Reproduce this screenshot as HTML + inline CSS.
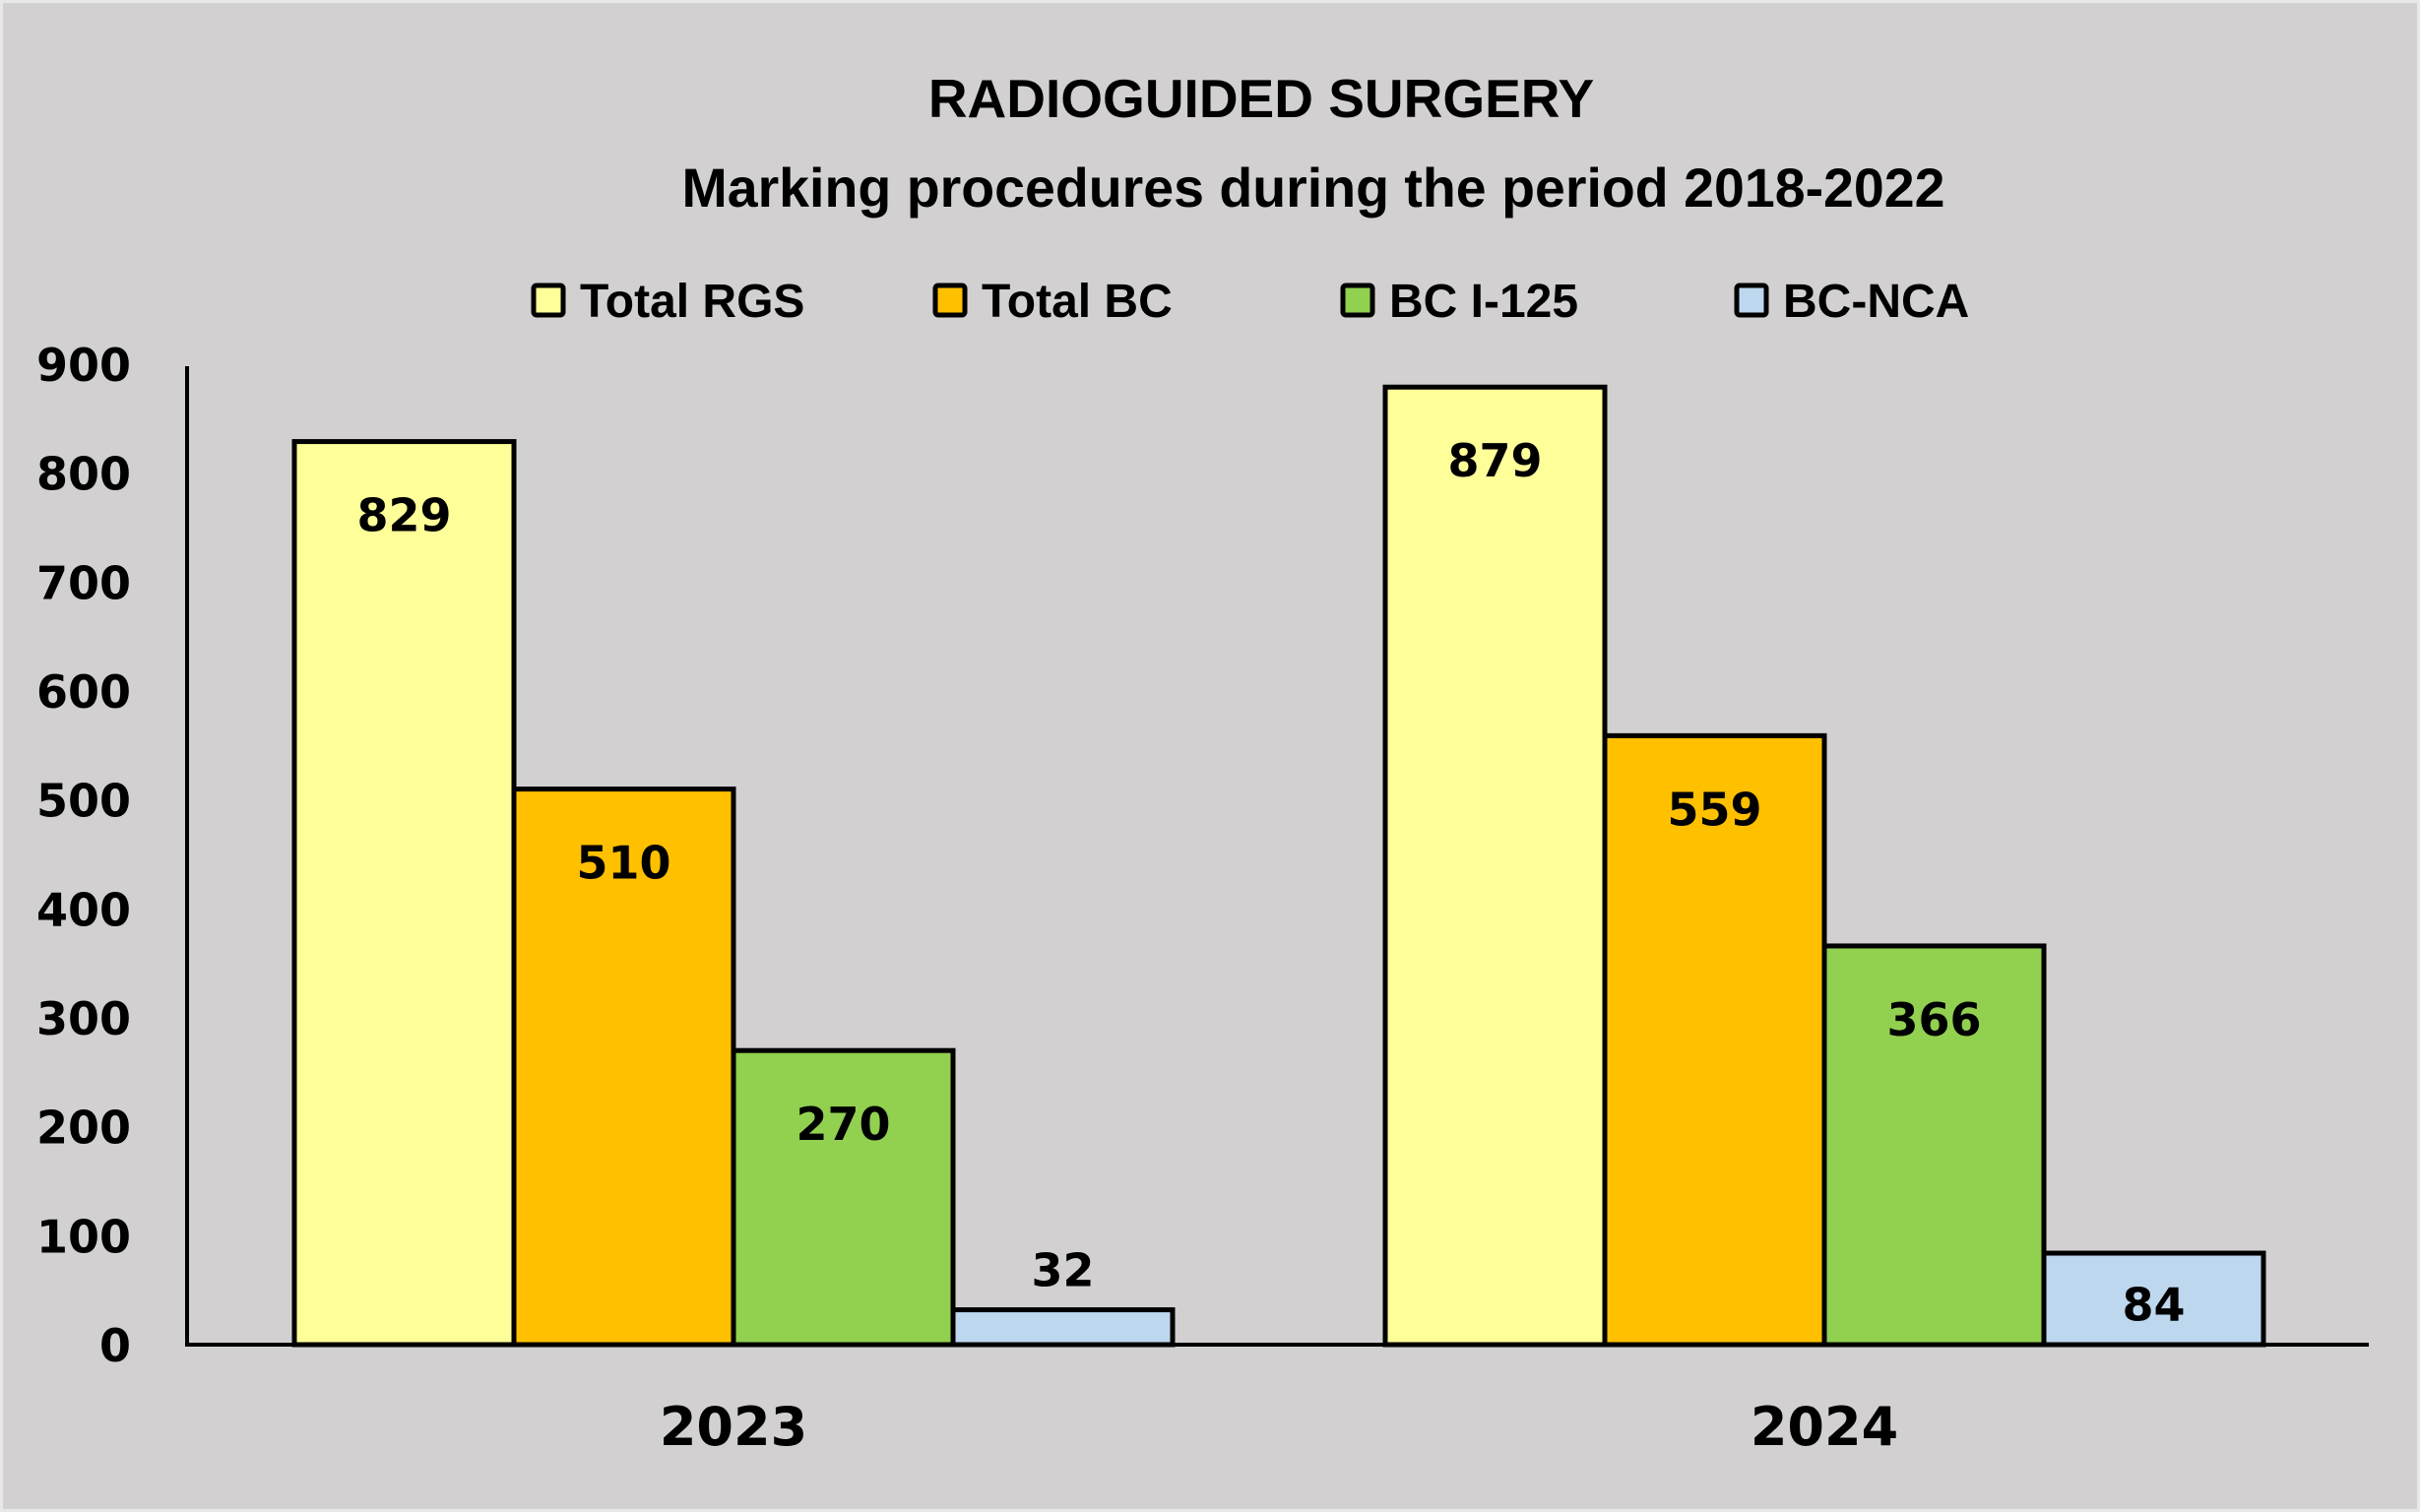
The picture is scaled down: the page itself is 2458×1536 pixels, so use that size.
<!DOCTYPE html>
<html><head><meta charset="utf-8"><style>
html,body{margin:0;padding:0;background:#d2d0d1;}
svg{display:block;}
</style></head><body>
<svg id="chart" width="2458" height="1536" viewBox="0 0 2458 1536" xmlns="http://www.w3.org/2000/svg">
<rect x="0" y="0" width="2458" height="1536" fill="#d2d0d1" stroke="#e8e8e8" stroke-width="6"/>
<text x="1281" y="119" text-anchor="middle" font-family="Liberation Sans, sans-serif" font-weight="bold" font-size="55">RADIOGUIDED SURGERY</text>
<text x="1334" y="210" text-anchor="middle" font-family="Liberation Sans, sans-serif" font-weight="bold" font-size="55.5">Marking procedures during the period 2018-2022</text>
<g id="legend"></g>
<g id="yticks"></g>
<g id="bars"></g>
<g id="xlabels"></g>
<line x1="190" y1="372" x2="190" y2="1367" stroke="#000" stroke-width="4"/>
<line x1="188" y1="1366" x2="2406" y2="1366" stroke="#000" stroke-width="4"/>
</svg>
<script>
const categories = ["2023", "2024"];
const seriesNames = ["Total RGS", "Total BC", "BC I-125", "BC-NCA"];
const totalRGS = [829, 879];
const totalBC = [510, 559];
const bcI125 = [270, 366];
const bcNCA = [32, 84];
const yTicks = [0, 100, 200, 300, 400, 500, 600, 700, 800, 900];

const series = [totalRGS, totalBC, bcI125, bcNCA];
const colors = ["#ffff99", "#ffc000", "#92d050", "#bdd7ee"];
const NS = "http://www.w3.org/2000/svg";
const y0 = 1366, yMax = 900, plotH = 1366 - 370;
function yScale(v){ return y0 - v / yMax * plotH; }
const groupCenters = [745, 1853];
const barW = 223;
function xBar(ci, si){ return groupCenters[ci] - 2 * barW + si * barW; }
function mk(tag, attrs, parent){ const e = document.createElementNS(NS, tag); for (const k in attrs) e.setAttribute(k, attrs[k]); parent.appendChild(e); return e; }

const yt = document.getElementById('yticks');
yTicks.forEach(v => {
  const t = mk('text', {x: 133, y: yScale(v) + 17, 'text-anchor': 'end', 'font-family': 'DejaVu Sans, sans-serif', 'font-weight': 'bold', 'font-size': '46'}, yt);
  
  
  t.textContent = v;
});

const bg = document.getElementById('bars');
categories.forEach((c, ci) => {
  series.forEach((s, si) => {
    const v = s[ci];
    const top = yScale(v);
    const r = mk('rect', {x: xBar(ci, si), y: top, width: barW, height: y0 - top, fill: colors[si], stroke: '#000', 'stroke-width': 5}, bg);
    
    
    const h = y0 - top;
    let ly;
    if (v > 60) ly = top + Math.min(75, h / 2 + 6) + 16; else ly = top - 24;
    const t = mk('text', {x: xBar(ci, si) + barW / 2, y: ly, 'text-anchor': 'middle', 'font-family': 'DejaVu Sans, sans-serif', 'font-weight': 'bold', 'font-size': '46'}, bg);
    
    
    t.textContent = v;
  });
  const xl = mk('text', {x: groupCenters[ci], y: 1468, 'text-anchor': 'middle', 'font-family': 'DejaVu Sans, sans-serif', 'font-weight': 'bold', 'font-size': '54'}, document.getElementById('xlabels'));
  
  
  xl.textContent = c;
});

const lg = document.getElementById('legend');
const legX = [542, 950, 1364, 1764];
seriesNames.forEach((n, i) => {
  const r = mk('rect', {x: legX[i], y: 290, width: 30, height: 30, fill: colors[i], stroke: '#000', 'stroke-width': 5, rx: 3}, lg);
  
  
  const t = mk('text', {x: legX[i] + 47, y: 322, 'font-family': 'Liberation Sans, sans-serif', 'font-weight': 'bold', 'font-size': '48'}, lg);
  
  
  t.textContent = n;
});
</script>
</body></html>
